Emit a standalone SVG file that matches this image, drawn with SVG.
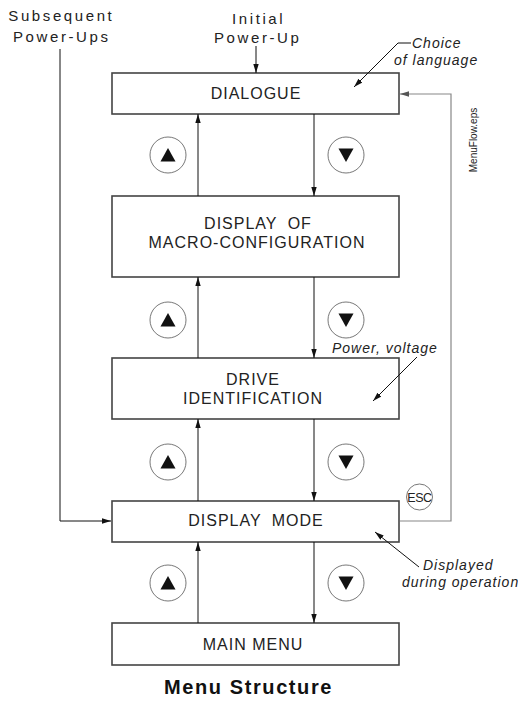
<svg xmlns="http://www.w3.org/2000/svg" width="518" height="702" viewBox="0 0 518 702">
<style>
  .box { fill: #fff; stroke: #444; stroke-width: 1.6; }
  .lbl { font-family: "Liberation Sans", Arial, sans-serif; font-size: 16px; letter-spacing: 1px; fill: #222; text-anchor: middle; }
  .top { font-family: "Liberation Sans", Arial, sans-serif; font-size: 15px; letter-spacing: 2.6px; fill: #222; }
  .note { font-family: "Liberation Sans", Arial, sans-serif; font-size: 14px; font-style: italic; letter-spacing: 1px; fill: #222; }
  .ln { fill: none; stroke: #111; stroke-width: 1; }
  .gray { fill: none; stroke: #888; stroke-width: 1.2; }
  .key { fill: #fff; stroke: #555; stroke-width: 0.8; }
  .tri { fill: #111; }
</style>
<defs>
  <marker id="ah" markerUnits="userSpaceOnUse" markerWidth="9" markerHeight="6" refX="9" refY="3" orient="auto">
    <path d="M0,0.3 L9,3 L0,5.7 z" fill="#111"/>
  </marker>
  <marker id="ahg" markerUnits="userSpaceOnUse" markerWidth="9" markerHeight="6" refX="9" refY="3" orient="auto">
    <path d="M0,0.3 L9,3 L0,5.7 z" fill="#555"/>
  </marker>
</defs>
<rect width="518" height="702" fill="#fff"/>

<g id="dialogue">
  <rect class="box" x="112" y="73" width="287" height="41"/>
  <text class="lbl" x="256" y="99">DIALOGUE</text>
</g>
<g id="macro">
  <rect class="box" x="112" y="196" width="287" height="81"/>
  <text class="lbl" x="258" y="229" word-spacing="5">DISPLAY OF</text>
  <text class="lbl" x="257" y="248">MACRO-CONFIGURATION</text>
</g>
<g id="drive">
  <rect class="box" x="112" y="358" width="287" height="61"/>
  <text class="lbl" x="253" y="385">DRIVE</text>
  <text class="lbl" x="253" y="404">IDENTIFICATION</text>
</g>
<g id="display-mode">
  <rect class="box" x="112" y="501" width="287" height="41"/>
  <text class="lbl" x="256" y="526" word-spacing="5">DISPLAY MODE</text>
</g>
<g id="main-menu">
  <rect class="box" x="112" y="623" width="287" height="42"/>
  <text class="lbl" x="253" y="650">MAIN MENU</text>
</g>

<g id="connectors">
  <line class="ln" x1="256" y1="46" x2="256" y2="73" marker-end="url(#ah)"/>
  <line class="ln" x1="314" y1="114" x2="314" y2="196" marker-end="url(#ah)"/>
  <line class="ln" x1="314" y1="277" x2="314" y2="358" marker-end="url(#ah)"/>
  <line class="ln" x1="314" y1="419" x2="314" y2="501" marker-end="url(#ah)"/>
  <line class="ln" x1="314" y1="542" x2="314" y2="623" marker-end="url(#ah)"/>
  <line class="ln" x1="198" y1="196" x2="198" y2="114" marker-end="url(#ah)"/>
  <line class="ln" x1="198" y1="358" x2="198" y2="277" marker-end="url(#ah)"/>
  <line class="ln" x1="198" y1="501" x2="198" y2="419" marker-end="url(#ah)"/>
  <line class="ln" x1="198" y1="623" x2="198" y2="542" marker-end="url(#ah)"/>
  <path class="ln" d="M60,49 V521 H111" marker-end="url(#ah)"/>
  <path class="gray" d="M400,521 H451 V94 H400" marker-end="url(#ahg)"/>
  <path class="ln" d="M411,43 H398 L354,87" marker-end="url(#ah)"/>
  <path class="ln" d="M417,357 L373,401" marker-end="url(#ah)"/>
  <path class="ln" d="M419,567 L375,532" marker-end="url(#ah)"/>
</g>

<g id="keys">
  <circle class="key" cx="168" cy="155" r="18"/>
  <path class="tri" d="M168,148 L175.5,161.5 L160.5,161.5 z"/>
  <circle class="key" cx="346" cy="155" r="18"/>
  <path class="tri" d="M346,162 L353.5,148.5 L338.5,148.5 z"/>
  <circle class="key" cx="168" cy="320" r="18"/>
  <path class="tri" d="M168,313 L175.5,326.5 L160.5,326.5 z"/>
  <circle class="key" cx="346" cy="320" r="18"/>
  <path class="tri" d="M346,327 L353.5,313.5 L338.5,313.5 z"/>
  <circle class="key" cx="168" cy="462" r="18"/>
  <path class="tri" d="M168,455 L175.5,468.5 L160.5,468.5 z"/>
  <circle class="key" cx="346" cy="462" r="18"/>
  <path class="tri" d="M346,469 L353.5,455.5 L338.5,455.5 z"/>
  <circle class="key" cx="168" cy="583" r="18"/>
  <path class="tri" d="M168,576 L175.5,589.5 L160.5,589.5 z"/>
  <circle class="key" cx="346" cy="583" r="18"/>
  <path class="tri" d="M346,590 L353.5,576.5 L338.5,576.5 z"/>
  <circle class="key" cx="419.5" cy="497" r="13"/>
  <text x="419.5" y="501.5" font-family="'Liberation Sans', Arial, sans-serif" font-size="12.5" letter-spacing="-0.4" fill="#222" text-anchor="middle">ESC</text>
</g>

<g id="labels">
  <text class="top" x="8.3" y="21">Subsequent</text>
  <text class="top" x="13" y="42">Power-Ups</text>
  <text class="top" x="232" y="24">Initial</text>
  <text class="top" x="214" y="43">Power-Up</text>
  <text class="note" x="412" y="47.5">Choice</text>
  <text class="note" x="394" y="65">of language</text>
  <text class="note" x="332" y="353">Power, voltage</text>
  <text class="note" x="423" y="570">Displayed</text>
  <text class="note" x="402" y="587">during operation</text>
  <text transform="translate(477,140) rotate(-90)" font-family="'Liberation Sans', Arial, sans-serif" font-size="10" fill="#222" text-anchor="middle">MenuFlow.eps</text>
  <text x="248.5" y="694" font-family="'Liberation Sans', Arial, sans-serif" font-size="20" font-weight="bold" letter-spacing="1.6" fill="#111" text-anchor="middle">Menu Structure</text>
</g>
</svg>
